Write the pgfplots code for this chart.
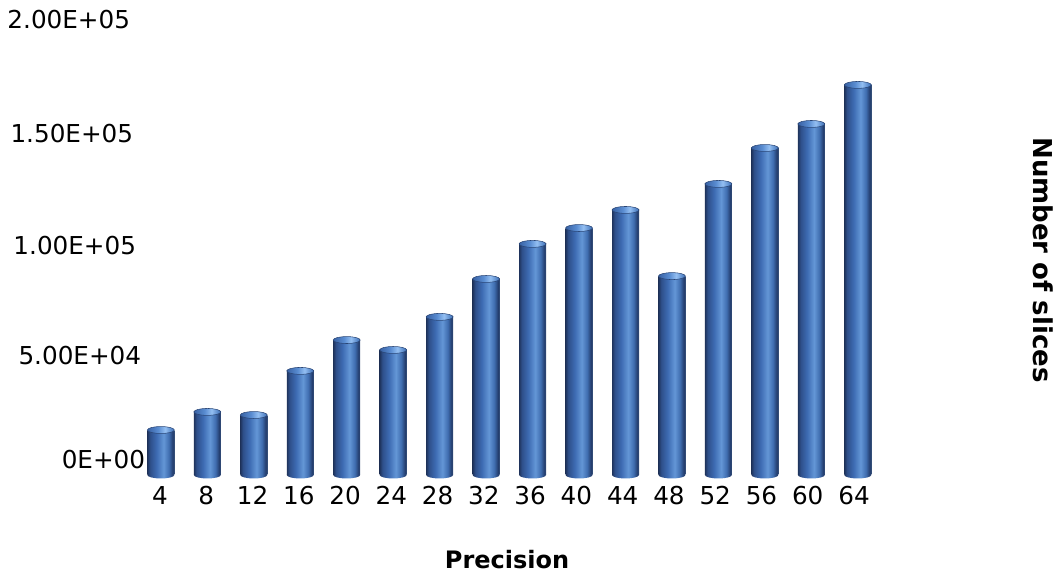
\documentclass[border=0pt]{standalone}
\usepackage{fontspec}
\setmainfont{DejaVu Sans}
\usepackage{pgfplots}
\usepackage{pgfplotstable}
\pgfplotsset{compat=1.18}

% Number of slices for each precision (bits)
\pgfplotstableread{
idx precision slices
0   4    20400
1   8    28600
2   12   27200
3   16   47200
4   20   61200
5   24   56700
6   28   71700
7   32   88900
8   36   104800
9   40   112000
10  44   120200
11  48   90200
12  52   132000
13  56   148300
14  60   159200
15  64   176900
}\slicedata

% Cylinder side: dark rim, bright streak right of the centre
\pgfdeclarehorizontalshading{cylbody}{100bp}{%
  rgb(0bp)=(0.12,0.20,0.36);
  rgb(25bp)=(0.12,0.20,0.36);
  rgb(30bp)=(0.18,0.31,0.54);
  rgb(42bp)=(0.24,0.42,0.70);
  rgb(55bp)=(0.39,0.59,0.84);
  rgb(65bp)=(0.25,0.43,0.69);
  rgb(72bp)=(0.14,0.24,0.43);
  rgb(75bp)=(0.22,0.32,0.48);
  rgb(100bp)=(0.22,0.32,0.48)}
% Cylinder lid
\pgfdeclarehorizontalshading{cyllid}{100bp}{%
  rgb(0bp)=(0.22,0.38,0.64);
  rgb(25bp)=(0.22,0.38,0.64);
  rgb(45bp)=(0.35,0.55,0.82);
  rgb(58bp)=(0.58,0.75,0.95);
  rgb(70bp)=(0.33,0.52,0.78);
  rgb(75bp)=(0.25,0.42,0.68);
  rgb(100bp)=(0.25,0.42,0.68)}

\pgfdeclareplotmark{cyllid}{%
  \pgfpathellipse{\pgfpointorigin}{\pgfqpoint{10.1pt}{0pt}}{\pgfqpoint{0pt}{2.6pt}}%
  \pgfshadepath{cyllid}{0}%
  \pgfusepath{stroke}}
\pgfdeclareplotmark{cylbase}{%
  \pgfpathellipse{\pgfpointorigin}{\pgfqpoint{10.1pt}{0pt}}{\pgfqpoint{0pt}{2.6pt}}%
  \pgfshadepath{cylbody}{0}%
  \pgfusepath{}}

\definecolor{lidrim}{rgb}{0.16,0.27,0.46}

\begin{document}
\begin{tikzpicture}
\path[use as bounding box] (0,0) rectangle (792pt,429.75pt);
\begin{axis}[
  at={(103.23pt,73.5pt)}, anchor=south west,
  scale only axis, width=557.55pt, height=330.75pt,
  xmin=-0.5, xmax=15.5, ymin=0, ymax=200000,
  clip=false,
  axis line style={draw=none},
  major tick length=0pt,
  xtick={0,...,15},
  xticklabels={4,8,12,16,20,24,28,32,36,40,44,48,52,56,60,64},
  ytick={0,50000,100000,150000,200000},
  yticklabels={0E+00,5.00E+04,1.00E+05,1.50E+05,2.00E+05},
  scaled y ticks=false,
  tick label style={font=\fontsize{18.5}{22}\selectfont},
  yticklabel style={anchor=east, inner sep=0pt,
    xshift={{5.8,2.8,-1.0,-3.2,-5.5}[\ticknum]*1pt},
    yshift={{11.6,6.9,6.75,8.1,10.9}[\ticknum]*1pt}},
  xticklabel style={anchor=base, inner sep=0pt, yshift=-22.5pt,
    xshift={-0.6pt-0.15pt*\ticknum}},
  xlabel={Precision},
  xlabel style={at={(axis description cs:0.4969,0)}, anchor=base,
    inner sep=0pt, yshift=-70.5pt,
    font=\bfseries\fontsize{18}{22}\selectfont},
  ylabel={Number of slices},
  ylabel style={at={(axis description cs:1.2044,0.4875)}, rotate=-180,
    anchor=base, inner sep=0pt,
    font=\bfseries\fontsize{19.5}{22}\selectfont},
]
  % rounded bases
  \addplot[only marks, mark=cylbase] table[x=idx, y expr=0] {\slicedata};
  % cylinder bodies, one plot per bar so each is shaded on its own
  \pgfplotsinvokeforeach{0,...,15}{
    \addplot[ybar, bar width=20.25pt, bar shift=0pt, draw=none,
      shading=cylbody, restrict x to domain=#1:#1]
      table[x=idx, y=slices] {\slicedata};
  }
  % lids
  \addplot[only marks, mark=cyllid, mark options={draw=lidrim, line width=0.4pt}]
    table[x=idx, y=slices] {\slicedata};
\end{axis}
\end{tikzpicture}
\end{document}
